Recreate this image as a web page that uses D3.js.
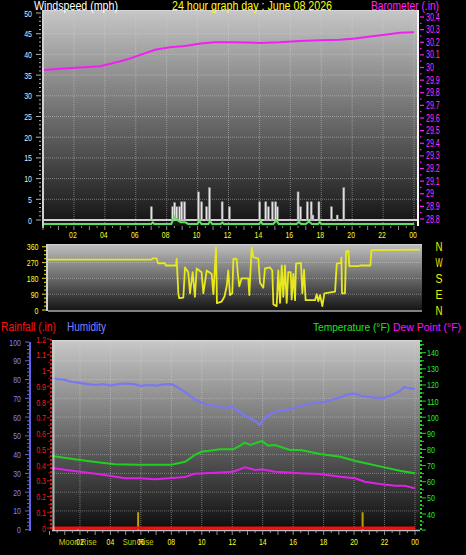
<!DOCTYPE html>
<html><head><meta charset="utf-8">
<script src="https://cdn.jsdelivr.net/npm/d3@7"></script>
<style>
html,body{margin:0;padding:0;background:#000;}
svg{display:block;}
text{font-family:"Liberation Sans",Arial,sans-serif;}
</style></head>
<body><svg id="c" width="466" height="555"></svg>
<script>
// ---------------- DATA ----------------
const hourTicks = [2,4,6,8,10,12,14,16,18,20,22,24];
const hourLabels = ["02","04","06","08","10","12","14","16","18","20","22","00"];

const windTicks = [0,5,10,15,20,25,30,35,40,45,50];
const baroTicks = [28.8,28.9,29.0,29.1,29.2,29.3,29.4,29.5,29.6,29.7,29.8,29.9,30.0,30.1,30.2,30.3,30.4];
const baroLabels = ["28.8","28.9","29","29.1","29.2","29.3","29.4","29.5","29.6","29.7","29.8","29.9","30","30.1","30.2","30.3","30.4"];

const baroTimes  = [0,1.1,2.4,3.7,5.0,5.6,6.3,7.25,8.2,9.2,10.2,11.1,12.3,14.0,15.3,16.6,17.9,19.2,20.2,21.2,22.1,23.1,24];
const baroValues = [29.98,29.99,30.0,30.01,30.05,30.07,30.10,30.14,30.16,30.17,30.19,30.20,30.20,30.195,30.20,30.21,30.215,30.22,30.23,30.245,30.26,30.275,30.28];

// gust spikes (mph)
const gustTimes  = [7.01,8.39,8.52,8.65,8.84,8.97,9.16,10.06,10.26,10.58,10.77,11.59,12.06,14.02,14.41,14.58,14.84,15.05,15.16,16.5,16.66,17.1,17.35,17.46,17.85,18.66,19.03,19.46];
const gustValues = [3.2,3.2,4.2,3.2,3.2,4.4,4.4,6.8,4.4,3.2,7.8,4.4,3.2,4.4,4.4,3.2,4.4,4.4,3.2,6.8,3.2,4.4,4.4,1.2,4.4,3.2,1.2,7.8];
// average wind (mph)
const avgTimes  = [0,7.0,7.1,7.2,8.3,8.5,8.7,8.9,9.2,9.4,10.0,10.1,10.25,10.7,10.8,10.95,11.5,11.6,11.7,14.0,14.1,14.2,14.9,15.1,15.25,16.4,16.55,16.7,17.0,17.2,17.4,17.8,17.9,18.0,24];
const avgValues = [0,0,0.4,0,0,1.8,0.9,0.4,0.4,0,0,0.8,0,0,0.7,0,0,0.4,0,0,0.6,0,0,0.9,0,0,0.5,0,0,0.6,0,0,0.5,0,0];

const dirTicks  = [0,90,180,270,360];
const dirCompass = ["N","E","S","W","N"];
const dirTimes  = [0,6.7,6.75,7.0,7.1,7.55,7.6,8.26,8.30,8.41,8.47,8.73,8.84,9.05,9.16,9.33,9.48,9.59,9.91,10.02,10.24,10.56,10.67,10.84,10.90,11.2,11.38,11.53,11.63,11.74,11.89,11.96,12.17,12.24,12.34,12.49,12.92,12.99,13.14,13.25,13.57,13.68,13.89,14.0,14.32,14.47,14.54,14.75,14.86,14.97,15.08,15.18,15.29,15.4,15.5,15.66,15.72,15.83,15.94,16.0,16.32,16.41,16.52,16.62,17.23,17.33,17.44,17.55,17.7,17.83,18.52,18.63,18.9,18.93,18.97,19.16,19.23,19.38,19.44,20.02,20.13,20.8,20.86,24];
const dirValues = [287,287,294,294,266,266,253,253,291,95,67,70,242,215,95,215,75,236,215,95,225,205,90,356,39,48,75,135,225,85,95,292,290,215,135,180,180,85,356,300,292,155,127,236,242,225,31,22,225,40,253,75,253,40,215,215,60,205,56,264,268,95,230,56,56,90,50,85,22,95,104,264,268,298,95,95,332,338,250,250,253,253,340,343];

const humTicks = [0,10,20,30,40,50,60,70,80,90,100];
const rainTicks = [0,0.1,0.2,0.3,0.4,0.5,0.6,0.7,0.8,0.9,1.0,1.1,1.2];
const rainLabels = ["0","0.1","0.2","0.3","0.4","0.5","0.6","0.7","0.8","0.9","1","1.1","1.2"];
const tempTicks = [40,50,60,70,80,90,100,110,120,130,140];

const rainTimes = [0,24];
const rainValues = [0,0];

const humTimes  = [0,0.5,1,1.5,2,2.5,3,3.5,4,4.5,5,5.5,6,6.5,7,7.5,8,8.5,9,9.5,10,10.5,11,11.5,12,12.5,13,13.5,13.8,14,14.5,15,15.5,16,16.5,17,17.5,18,18.5,19,19.5,20,20.5,21,21.5,22,22.5,23,23.3,23.5,24];
const humValues = [81.0,80.3,79.8,78.7,78.2,77.6,77.1,77.6,76.8,77.6,77.9,77.6,76.6,77.1,76.8,77.4,77.6,75.5,72.8,69.6,67.5,66.4,65.9,64.8,65.4,62.7,60.0,57.9,55.8,58.4,61.6,63.2,63.8,64.3,65.9,67.0,67.5,68.0,69.1,70.2,71.8,72.6,71.2,70.7,70.2,70.4,71.8,73.9,76.0,75.5,75.0];

const tempTimes  = [0,2.0,3.3,4.3,5.9,8.0,8.9,9.55,10.0,11.2,12.05,12.5,12.8,13.2,13.6,13.95,14.35,14.8,15.8,16.5,17.76,19.1,20.1,21.0,22.0,23.0,24];
const tempValues = [76.2,73.5,72.0,70.8,70.6,70.6,72.4,76.6,78.6,80.1,80.1,82.2,84.2,82.8,84.2,85.3,82.4,82.8,79.7,79.7,77.2,75.5,72.9,71.0,68.9,66.8,65.2];

const dewTimes  = [0,2.0,3.3,4.96,5.94,6.93,8.04,8.9,9.55,10.9,12.05,12.84,13.5,13.95,14.8,15.8,16.45,17.76,19.1,20.06,20.7,21.7,22.7,23.35,24];
const dewValues = [68.7,66.2,64.6,62.1,62.1,61.5,62.3,62.9,65.0,65.6,66.2,68.9,67.3,67.7,66.2,65.8,65.2,64.8,63.1,62.1,60.0,58.6,57.5,57.5,55.9];

const moonRise = 1.85, sunRise = 5.82, sunSet = 20.56;

// ---------------- DRAW ----------------
const svg = d3.select("#c");
const defs = svg.append("defs");
const numW = s => String(s).split("").reduce((a,c)=>a+(c==="."?2.0:3.9),0);
function narrow(sel, wfn){ return sel.attr("textLength", wfn).attr("lengthAdjust","spacingAndGlyphs"); }
function grad(id, y0, y1, c0, c1){
  const g = defs.append("linearGradient").attr("id",id).attr("gradientUnits","userSpaceOnUse")
    .attr("x1",0).attr("x2",0).attr("y1",y0).attr("y2",y1);
  g.append("stop").attr("offset",0).attr("stop-color",c0);
  g.append("stop").attr("offset",1).attr("stop-color",c1);
}
function clip(id,x,y,w,h){ defs.append("clipPath").attr("id",id).append("rect").attr("x",x).attr("y",y).attr("width",w).attr("height",h); }
function title(x,y,size,w,col,txt){
  narrow(svg.append("text").attr("x",x).attr("y",y).attr("font-size",size).attr("fill",col).text(txt), w);
}

// --- top panel ---
const T = {x0:44, x1:418, y0:10, y1:226};
const xTop = d3.scaleLinear([0,24],[43,414]);
const yWind = d3.scaleLinear([0,50],[220,13]);
const yAvg = d3.scaleLinear([0,50],[224,17]);
const yBaro = d3.scaleLinear([28.8,30.4],[219,17]);
grad("gTop", T.y0, T.y1, "#c6c6c6", "#121212");
clip("cTop", T.x0, T.y0, T.x1-T.x0, T.y1-T.y0);
svg.append("rect").attr("x",T.x0).attr("y",T.y0).attr("width",T.x1-T.x0).attr("height",T.y1-T.y0).attr("fill","url(#gTop)");
const gTop = svg.append("g").attr("clip-path","url(#cTop)");
gTop.selectAll(".hg").data(windTicks.slice(1)).join("line")
  .attr("x1",T.x0).attr("x2",T.x1).attr("y1",d=>yWind(d)).attr("y2",d=>yWind(d))
  .attr("stroke","#d8d8d8").attr("stroke-opacity",0.45).attr("stroke-dasharray","1,1");
gTop.selectAll(".vg").data(hourTicks).join("line")
  .attr("x1",d=>xTop(d)).attr("x2",d=>xTop(d)).attr("y1",T.y0).attr("y2",T.y1)
  .attr("stroke","#d8d8d8").attr("stroke-opacity",0.45).attr("stroke-dasharray","1,1");
svg.append("line").attr("x1",T.x0).attr("x2",T.x1).attr("y1",T.y0+0.5).attr("y2",T.y0+0.5).attr("stroke","#d8d8d8");
gTop.append("line").attr("x1",T.x0).attr("x2",T.x1).attr("y1",yWind(0)).attr("y2",yWind(0)).attr("stroke","#d0d0d0").attr("stroke-width",2);
gTop.selectAll(".gust").data(gustTimes).join("rect")
  .attr("x",d=>xTop(d)-1).attr("width",2)
  .attr("y",(d,i)=>yWind(gustValues[i])).attr("height",(d,i)=>yWind(0)-yWind(gustValues[i]))
  .attr("fill","#e4e4e4").attr("stroke","#8c8c8c").attr("stroke-width",0.5);
gTop.append("path").datum(avgTimes.map((t,i)=>[t,avgValues[i]]))
  .attr("d",d3.line().x(d=>xTop(d[0])).y(d=>yAvg(d[1])))
  .attr("fill","none").attr("stroke","#60e060").attr("stroke-width",2);
gTop.append("path").datum(baroTimes.map((t,i)=>[t,baroValues[i]]))
  .attr("d",d3.line().x(d=>xTop(d[0])).y(d=>yBaro(d[1])))
  .attr("fill","none").attr("stroke","#f020f0").attr("stroke-width",2);
svg.append("line").attr("x1",43).attr("x2",43).attr("y1",T.y0).attr("y2",T.y1+2).attr("stroke","#d0d0d0").attr("stroke-width",2);
svg.selectAll(".wmin").data(d3.range(0,51,1)).join("line")
  .attr("x1",d=>d%5===0?36:39).attr("x2",41).attr("y1",d=>yWind(d)).attr("y2",d=>yWind(d))
  .attr("stroke","#b0b0b0").attr("stroke-width",1);
narrow(svg.selectAll(".wl").data(windTicks).join("text")
  .attr("x",32).attr("y",d=>yWind(d)+3.5).attr("text-anchor","end")
  .attr("font-size",9.5).attr("fill","#dfe9ff").text(d=>d), d=>numW(d));
svg.append("line").attr("x1",418).attr("x2",418).attr("y1",T.y0).attr("y2",T.y1).attr("stroke","#f4f4f4").attr("stroke-width",2);
svg.selectAll(".bmin").data(d3.range(0,33)).join("line")
  .attr("x1",420).attr("x2",d=>d%2===0?424:421.5)
  .attr("y1",d=>yBaro(28.8+d*0.05)).attr("y2",d=>yBaro(28.8+d*0.05))
  .attr("stroke","#ff20ff").attr("stroke-width",1.2);
narrow(svg.selectAll(".bl").data(baroTicks).join("text")
  .attr("x",426).attr("y",(d)=>yBaro(d)+3.5)
  .attr("font-size",10).attr("fill","#ff33ff").text((d,i)=>baroLabels[i]), (d,i)=>numW(baroLabels[i]));
svg.selectAll(".tt").data(d3.range(0,24.01,0.5)).join("line")
  .attr("x1",d=>xTop(d)).attr("x2",d=>xTop(d)).attr("y1",226).attr("y2",d=>d%1===0?230:228)
  .attr("stroke","#909090");
narrow(svg.selectAll(".tl").data(hourTicks).join("text")
  .attr("x",d=>xTop(d)-1).attr("y",238).attr("text-anchor","middle")
  .attr("font-size",9.5).attr("fill","#ffff20").text((d,i)=>hourLabels[i]), 7.6);
title(34, 10, 12, 84, "#ffffff", "Windspeed (mph)");
title(172, 10, 12, 160, "#ffff00", "24 hour graph day : June 08 2026");
title(371, 10, 12, 68, "#ff22ff", "Barometer (.in)");

// --- direction panel ---
const D = {x0:48, x1:422, y0:244, y1:311};
const xDir = d3.scaleLinear([0,24],[48,420]);
const yDir = d3.scaleLinear([0,360],[310,246.7]);
grad("gDir", D.y0, D.y1, "#c0c0c0", "#141414");
clip("cDir", D.x0, D.y0, D.x1-D.x0, D.y1-D.y0);
svg.append("rect").attr("x",D.x0).attr("y",D.y0).attr("width",D.x1-D.x0).attr("height",D.y1-D.y0).attr("fill","url(#gDir)");
const gDir = svg.append("g").attr("clip-path","url(#cDir)");
gDir.selectAll(".dg").data(dirTicks.slice(1,4)).join("line")
  .attr("x1",D.x0).attr("x2",D.x1).attr("y1",d=>yDir(d)).attr("y2",d=>yDir(d))
  .attr("stroke","#d8d8d8").attr("stroke-opacity",0.45).attr("stroke-dasharray","1,1");
svg.append("line").attr("x1",D.x0).attr("x2",D.x1).attr("y1",D.y1).attr("y2",D.y1).attr("stroke","#a8a8a8").attr("stroke-width",1.5);
svg.append("line").attr("x1",D.x0).attr("x2",D.x1).attr("y1",D.y0+0.5).attr("y2",D.y0+0.5).attr("stroke","#d0d0d0");
gDir.append("path").datum(dirTimes.map((t,i)=>[t,dirValues[i]]))
  .attr("d",d3.line().x(d=>xDir(d[0])).y(d=>yDir(d[1])))
  .attr("fill","none").attr("stroke","#e8e81c").attr("stroke-width",1.8).attr("stroke-linejoin","round");
svg.append("line").attr("x1",47).attr("x2",47).attr("y1",D.y0).attr("y2",D.y1).attr("stroke","#d0d0d0").attr("stroke-width",2);
svg.selectAll(".dmin").data(d3.range(0,361,22.5)).join("line")
  .attr("x1",d=>d%90===0?42:44).attr("x2",46).attr("y1",d=>yDir(d)).attr("y2",d=>yDir(d))
  .attr("stroke","#c8c800").attr("stroke-width",1.2);
narrow(svg.selectAll(".dl").data(dirTicks).join("text")
  .attr("x",38.5).attr("y",d=>yDir(d)+3.5).attr("text-anchor","end")
  .attr("font-size",9.5).attr("fill","#ffff20").text(d=>d), d=>numW(d));
narrow(svg.selectAll(".dc").data(dirTicks).join("text")
  .attr("x",439).attr("y",d=>yDir(d)+4.5).attr("text-anchor","middle")
  .attr("font-size",12.5).attr("fill","#f0f000").text((d,i)=>dirCompass[i]), 7);

// --- bottom panel ---
const B = {x0:52, x1:420, y0:340, y1:531};
const xBot = d3.scaleLinear([0,24],[49.5,415]);
const yHum = d3.scaleLinear([0,100],[529.7,342]);
const yRain = d3.scaleLinear([0,1.2],[528,339]);
const yTemp = d3.scaleLinear([40,140],[514,352.7]);
grad("gBot", B.y0, B.y1, "#c8c8c8", "#0c0c0c");
clip("cBot", B.x0, B.y0, B.x1-B.x0, B.y1-B.y0);
svg.append("rect").attr("x",B.x0).attr("y",B.y0).attr("width",B.x1-B.x0).attr("height",B.y1-B.y0).attr("fill","url(#gBot)");
const gBot = svg.append("g").attr("clip-path","url(#cBot)");
gBot.selectAll(".hg").data(humTicks.slice(1)).join("line")
  .attr("x1",B.x0).attr("x2",B.x1).attr("y1",d=>yHum(d)).attr("y2",d=>yHum(d))
  .attr("stroke","#d8d8d8").attr("stroke-opacity",0.4).attr("stroke-dasharray","1,1");
gBot.selectAll(".vg").data(hourTicks).join("line")
  .attr("x1",d=>xBot(d)).attr("x2",d=>xBot(d)).attr("y1",B.y0).attr("y2",B.y1)
  .attr("stroke","#d8d8d8").attr("stroke-opacity",0.45).attr("stroke-dasharray","1,1");
svg.append("line").attr("x1",B.x0).attr("x2",B.x1).attr("y1",B.y0+0.5).attr("y2",B.y0+0.5).attr("stroke","#d8d8d8");
svg.append("line").attr("x1",B.x0).attr("x2",B.x1).attr("y1",530.5).attr("y2",530.5).attr("stroke","#c0c0c0").attr("stroke-width",1.5);
svg.append("line").attr("x1",53.5).attr("x2",53.5).attr("y1",B.y0).attr("y2",B.y1).attr("stroke","#d0d0d0").attr("stroke-width",2).attr("stroke-opacity",0.8);
gBot.selectAll(".sun").data([sunRise,sunSet]).join("line")
  .attr("x1",d=>xBot(d)).attr("x2",d=>xBot(d)).attr("y1",yRain(0.1)).attr("y2",yRain(0)+2)
  .attr("stroke","#b8a400").attr("stroke-width",2);
gBot.append("line").attr("x1",xBot(moonRise)).attr("x2",xBot(moonRise)).attr("y1",yRain(0)+1).attr("y2",yRain(0)+3)
  .attr("stroke","#b8a400").attr("stroke-width",2);
const lineOf = (ts,vs,ys)=>d3.line().x((d,i)=>xBot(ts[i])).y((d,i)=>ys(vs[i]))(vs);
gBot.append("path").attr("d",lineOf(dewTimes,dewValues,yTemp)).attr("fill","none").attr("stroke","#e020e8").attr("stroke-width",2);
gBot.append("path").attr("d",lineOf(tempTimes,tempValues,yTemp)).attr("fill","none").attr("stroke","#20d020").attr("stroke-width",2);
gBot.append("path").attr("d",lineOf(humTimes,humValues,yHum)).attr("fill","none").attr("stroke","#7878f0").attr("stroke-width",2.2);
gBot.append("path").attr("d",lineOf(rainTimes,rainValues,yRain)).attr("fill","none").attr("stroke","#f01010").attr("stroke-width",3);
svg.append("line").attr("x1",30).attr("x2",30).attr("y1",342).attr("y2",531).attr("stroke","#6464e6").attr("stroke-width",2);
svg.selectAll(".hmin").data(d3.range(0,101,2)).join("line")
  .attr("x1",d=>d%10===0?25:27).attr("x2",29).attr("y1",d=>yHum(d)).attr("y2",d=>yHum(d))
  .attr("stroke","#6464e6").attr("stroke-width",1);
narrow(svg.selectAll(".hl").data(humTicks).join("text")
  .attr("x",21).attr("y",d=>yHum(d)+3.5).attr("text-anchor","end")
  .attr("font-size",9.5).attr("fill","#8080ff").text(d=>d), d=>numW(d));
svg.append("line").attr("x1",51).attr("x2",51).attr("y1",339).attr("y2",531).attr("stroke","#e01010").attr("stroke-width",2).attr("stroke-dasharray","2,2");
svg.selectAll(".rmin").data(d3.range(0,25)).join("line")
  .attr("x1",d=>d%2===0?47:48.5).attr("x2",50).attr("y1",d=>yRain(d*0.05)).attr("y2",d=>yRain(d*0.05))
  .attr("stroke","#e01010").attr("stroke-width",1);
narrow(svg.selectAll(".rl").data(rainTicks).join("text")
  .attr("x",46).attr("y",d=>yRain(d)+3.5).attr("text-anchor","end")
  .attr("font-size",9.5).attr("fill","#ff1a1a").text((d,i)=>rainLabels[i]), (d,i)=>numW(rainLabels[i]));
svg.append("line").attr("x1",421).attr("x2",421).attr("y1",340).attr("y2",531).attr("stroke","#20d020").attr("stroke-width",2).attr("stroke-dasharray","2,2");
svg.selectAll(".tmin").data(d3.range(30,146,5)).join("line")
  .attr("x1",422).attr("x2",d=>d%10===0?426:424).attr("y1",d=>yTemp(d)).attr("y2",d=>yTemp(d))
  .attr("stroke","#20d020").attr("stroke-width",1);
narrow(svg.selectAll(".tml").data(tempTicks).join("text")
  .attr("x",427).attr("y",d=>yTemp(d)+3.5)
  .attr("font-size",9.5).attr("fill","#22ee22").text(d=>d), d=>numW(d));
svg.selectAll(".bt").data(d3.range(0,24.01,0.5)).join("line")
  .attr("x1",d=>xBot(d)).attr("x2",d=>xBot(d)).attr("y1",531).attr("y2",d=>d%1===0?535:533)
  .attr("stroke","#909090");
narrow(svg.append("text").attr("x",xBot(moonRise)).attr("y",545).attr("text-anchor","middle").attr("font-size",9.5).attr("fill","#d0cc00").text("Moon Rise"), 38);
narrow(svg.append("text").attr("x",xBot(sunRise)).attr("y",545).attr("text-anchor","middle").attr("font-size",9.5).attr("fill","#d0cc00").text("Sun Rise"), 31);
narrow(svg.selectAll(".bl2").data(hourTicks).join("text")
  .attr("x",d=>xBot(d)).attr("y",545).attr("text-anchor","middle")
  .attr("font-size",9.5).attr("fill","#ffff20").text((d,i)=>hourLabels[i]), 7.6);
title(1, 331, 12, 55, "#ff1010", "Rainfall (.in)");
title(67, 331, 12, 39, "#8080ff", "Humidity");
title(313, 331, 11, 77, "#20e020", "Temperature (°F)");
title(393, 331, 11, 68, "#ff10ff", "Dew Point (°F)");
</script>
</body></html>
